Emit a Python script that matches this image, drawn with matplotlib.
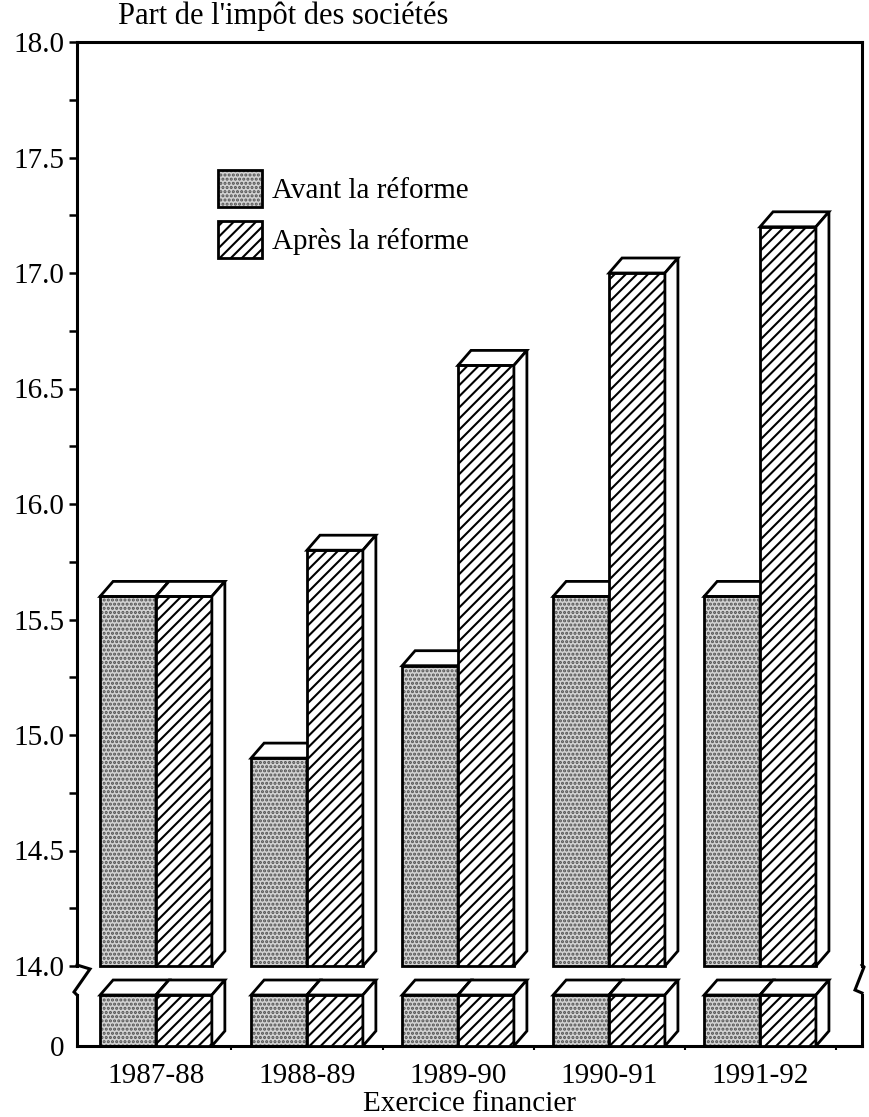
import matplotlib.pyplot as plt
from matplotlib.patches import Polygon, Patch
from matplotlib.lines import Line2D
import numpy as np

plt.rcParams['font.family'] = ['Liberation Serif', 'DejaVu Serif']
plt.rcParams['font.size'] = 21
plt.rcParams['hatch.linewidth'] = 1.5

years = ["1987-88", "1988-89", "1989-90", "1990-91", "1991-92"]
avant = [15.6, 14.9, 15.3, 15.6, 15.6]
apres = [15.6, 15.8, 16.6, 17.0, 17.2]
labels = ["Avant la réforme", "Après la réforme"]

W, H = 869, 1117
fig = plt.figure(figsize=(W / 100, H / 100), dpi=100)

def box(l, t, r, b):
    return [l / W, 1 - b / H, (r - l) / W, (b - t) / H]

ax = fig.add_axes(box(77, 42, 862, 966))
axb = fig.add_axes(box(77, 995, 862, 1046))

xmin, xmax = -0.523, 4.675
for a in (ax, axb):
    a.set_xlim(xmin, xmax)
ax.set_ylim(14.0, 18.0)
axb.set_ylim(0, 1)

x = np.arange(len(years))
w = 0.37
lw = 2.0
stip = dict(facecolor='#d2d2d2', edgecolor='#505050', hatch='....', linewidth=0)
hatch = dict(facecolor='white', edgecolor='black', hatch='///', linewidth=0)

# depth of the 3-D boxes, in pixels
DX, DY = 13, 15
dx = DX * (xmax - xmin) / 785

def draw_boxes(a, left, top, bottom, dy, style, z):
    a.bar(left, np.array(top) - bottom, w, bottom=bottom, align='edge',
          zorder=z, clip_on=False, **style)
    a.bar(left, np.array(top) - bottom, w, bottom=bottom, align='edge',
          fill=False, edgecolor='black', linewidth=lw, zorder=z + 0.1,
          clip_on=False)
    for x0, y1 in zip(left, top):
        x1 = x0 + w
        roof = [(x0, y1), (x1, y1), (x1 + dx, y1 + dy), (x0 + dx, y1 + dy)]
        side = [(x1, bottom), (x1 + dx, bottom + dy), (x1 + dx, y1 + dy), (x1, y1)]
        for pts in (roof, side):
            a.add_patch(Polygon(pts, closed=True, facecolor='white',
                                edgecolor='black', linewidth=lw,
                                joinstyle='miter', zorder=z + 0.2,
                                clip_on=False))

dy_top = DY * 4.0 / 924
dy_bot = DY * 1.0 / 51
draw_boxes(ax, x - w, avant, 14.0, dy_top, stip, 2)
draw_boxes(ax, x, apres, 14.0, dy_top, hatch, 3)
ones = np.ones(len(years))
draw_boxes(axb, x - w, ones, 0.0, dy_bot, stip, 2)
draw_boxes(axb, x, ones, 0.0, dy_bot, hatch, 3)

# axes frame
for a in (ax, axb):
    for s in a.spines.values():
        s.set_linewidth(2.2)
ax.spines['bottom'].set_visible(False)
axb.spines['top'].set_visible(False)

ax.set_yticks(np.arange(14.0, 18.01, 0.5))
ax.set_yticks(np.arange(14.0, 18.01, 0.25), minor=True)
ax.set_yticklabels([f"{v:.1f}" for v in np.arange(14.0, 18.01, 0.5)])
ax.tick_params(axis='y', which='both', direction='out', length=6, width=1.8, pad=3)
ax.set_xticks([])
axb.set_yticks([0])
axb.set_yticklabels(["0"])
axb.tick_params(axis='y', direction='out', length=0, pad=9)
axb.set_xticks(x)
axb.set_xticklabels(years)
axb.set_xticks(np.arange(0.5, len(years) - 0.4, 1), minor=True)
axb.tick_params(axis='x', which='major', length=0, pad=12)
axb.tick_params(axis='x', which='minor', direction='out', length=3, width=1.5)

# axis break marks
def line(pts):
    xs = [p[0] / W for p in pts]
    ys = [1 - p[1] / H for p in pts]
    fig.add_artist(Line2D(xs, ys, transform=fig.transFigure, color='black',
                          linewidth=2.2, solid_joinstyle='miter'))

line([(77, 965), (90, 969), (74, 992), (77, 995)])
line([(862, 965), (864, 967), (855, 990), (862, 993)])

fig.text(118 / W, 1 - 16 / H, "Part de l'impôt des sociétés", ha='left',
         va='center', fontsize=22)
fig.text(469 / W, 1 - 1104 / H, "Exercice financier", ha='center', va='center')

handles = [(Patch(**stip), Patch(fill=False, edgecolor='black', linewidth=lw)),
           (Patch(**hatch), Patch(fill=False, edgecolor='black', linewidth=lw))]
ax.legend(handles, labels, loc='upper left',
          bbox_to_anchor=(218 / W, 1 - 170 / H), bbox_transform=fig.transFigure,
          frameon=False, borderpad=0, borderaxespad=0, handlelength=1.5,
          handleheight=1.6, handletextpad=0.35, labelspacing=0.45)

fig.savefig("out.png", dpi=100)
